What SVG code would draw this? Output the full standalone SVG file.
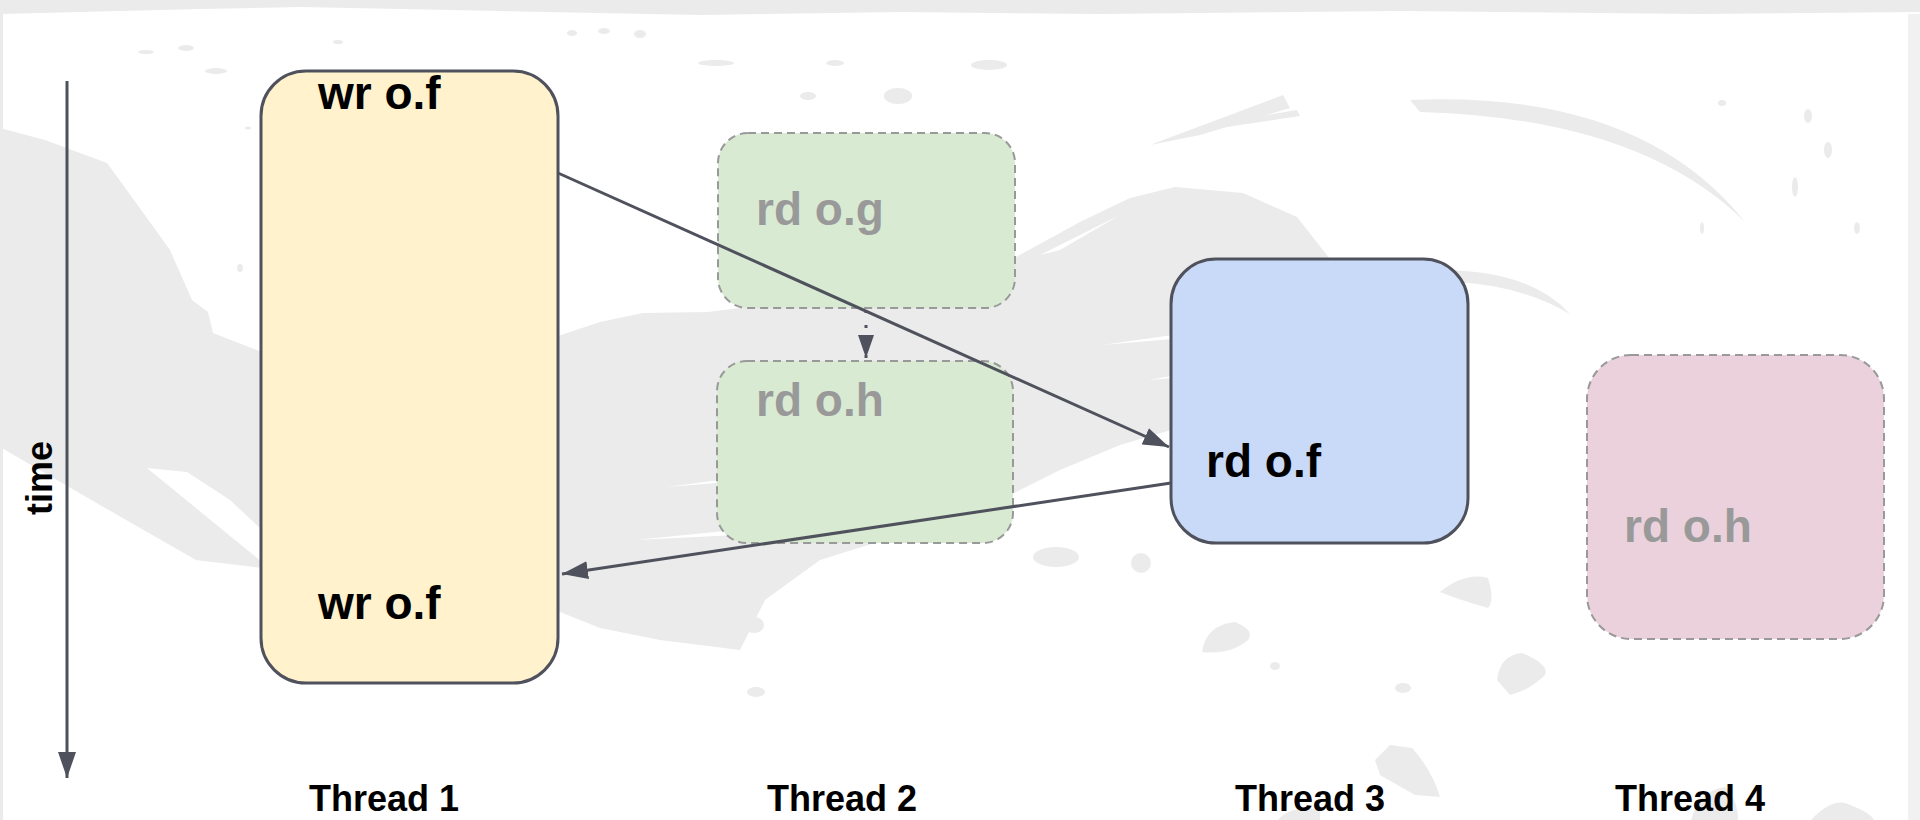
<svg xmlns="http://www.w3.org/2000/svg" width="1920" height="820" viewBox="0 0 1920 820">
  <style>
    .label { font-family: "Liberation Sans", Arial, sans-serif; font-weight: bold; }
    .op { font-size: 46px; }
    .op-main { fill: #000000; }
    .op-faded { fill: #999999; }
    .thread { font-size: 36px; fill: #000000; text-anchor: middle; }
    .box-solid { stroke: #4f525c; stroke-width: 3; }
    .box-dashed { stroke: #999999; stroke-width: 2; stroke-dasharray: 8 5; }
    .wire { stroke: #4f525c; stroke-width: 3; fill: none; }
    .grunge { fill: #ebebeb; }
  </style>
  <defs>
    <marker id="head" markerUnits="userSpaceOnUse" markerWidth="26" markerHeight="18" refX="26" refY="9" orient="auto">
      <path d="M0,0 L26,9 L0,18 Z" fill="#4f525c"/>
    </marker>
    <marker id="head-small" markerUnits="userSpaceOnUse" markerWidth="23" markerHeight="16" refX="23" refY="8" orient="auto">
      <path d="M0,0 L23,8 L0,16 Z" fill="#4f525c"/>
    </marker>
  </defs>

  <!-- paper background with brush texture -->
  <g id="background">
    <rect x="0" y="0" width="1920" height="820" fill="#ffffff"/>
    <path class="grunge" d="M0,0 H1920 V12 L1700,14 L1400,11 L1100,14 L900,12 L700,15 L500,11 L300,7 L200,9 L0,14 Z"/>
    <rect class="grunge" x="0" y="14" width="3" height="806"/>
    <rect x="1908" y="14" width="12" height="806" fill="#f1f1f1"/>
    <!-- main swath -->
    <path class="grunge" d="M0,128 L45,140 L107,163 L134,200 L170,250 L192,300 L208,312 L213,333 L262,352 L558,336 L600,322 L643,313 L708,312 L763,305 L850,290 L940,272 L1016,257 L1080,222 L1130,198 L1175,187 L1243,193 L1297,217 L1330,259 L1330,420 L1171,430 L1120,445 L1060,470 L1010,495 L960,515 L900,535 L820,560 L765,600 L740,650 L660,640 L600,628 L560,612 L520,600 L400,582 L262,568 L196,560 L100,505 L0,447 Z"/>
    <!-- light streaks cut through the swath -->
    <path d="M147,468 L187,472 L230,500 L262,530 L262,562 L235,540 Z" fill="#ffffff"/>
    <path d="M666,487 L765,474 L768,479 Z" fill="#ffffff"/>
    <path d="M635,540 L735,530 L737,535 Z" fill="#ffffff"/>
    <path d="M1102,345 L1194,332 L1196,337 Z" fill="#ffffff"/>
    <path d="M1148,380 L1200,371 L1200,376 Z" fill="#ffffff"/>
    <path d="M1040,255 L1120,215 L1060,250 Z" fill="#ffffff"/>
    <!-- upper right strokes -->
    <path class="grunge" d="M1150,145 L1283,95 L1290,108 L1200,135 Z"/>
    <path class="grunge" d="M1197,127 L1297,110 L1300,116 L1220,128 Z"/>
    <path class="grunge" d="M1410,100 Q1640,90 1745,222 Q1640,118 1420,112 Z"/>
    <path class="grunge" d="M1440,270 Q1530,270 1570,314 Q1520,285 1455,282 Z"/>
    <!-- scattered flecks -->
    <ellipse class="grunge" cx="146" cy="52" rx="8" ry="2"/>
    <ellipse class="grunge" cx="186" cy="48" rx="8" ry="3"/>
    <ellipse class="grunge" cx="216" cy="71" rx="11" ry="3"/>
    <ellipse class="grunge" cx="338" cy="42" rx="5" ry="2"/>
    <ellipse class="grunge" cx="572" cy="33" rx="5" ry="3"/>
    <ellipse class="grunge" cx="604" cy="31" rx="6" ry="3"/>
    <ellipse class="grunge" cx="640" cy="34" rx="6" ry="4"/>
    <ellipse class="grunge" cx="248" cy="128" rx="3" ry="1.5"/>
    <ellipse class="grunge" cx="240" cy="268" rx="3" ry="4"/>
    <ellipse class="grunge" cx="808" cy="96" rx="8" ry="4"/>
    <ellipse class="grunge" cx="898" cy="96" rx="14" ry="8"/>
    <ellipse class="grunge" cx="716" cy="63" rx="18" ry="3"/>
    <ellipse class="grunge" cx="835" cy="63" rx="9" ry="3"/>
    <ellipse class="grunge" cx="989" cy="65" rx="18" ry="5"/>
    <ellipse class="grunge" cx="1722" cy="103" rx="4" ry="3"/>
    <ellipse class="grunge" cx="1808" cy="116" rx="4" ry="7"/>
    <ellipse class="grunge" cx="1828" cy="150" rx="4" ry="8"/>
    <ellipse class="grunge" cx="1795" cy="187" rx="3" ry="10"/>
    <ellipse class="grunge" cx="1857" cy="228" rx="3" ry="6"/>
    <ellipse class="grunge" cx="1702" cy="228" rx="2" ry="6"/>
    <ellipse class="grunge" cx="1056" cy="557" rx="23" ry="10"/>
    <ellipse class="grunge" cx="1141" cy="563" rx="10" ry="10"/>
    <ellipse class="grunge" cx="754" cy="625" rx="10" ry="8"/>
    <ellipse class="grunge" cx="715" cy="597" rx="15" ry="7"/>
    <ellipse class="grunge" cx="756" cy="692" rx="9" ry="5"/>
    <path class="grunge" d="M1440,592 Q1465,572 1488,578 Q1495,600 1488,608 Q1460,600 1440,592 Z"/>
    <path class="grunge" d="M1202,652 Q1206,625 1235,622 Q1255,630 1248,640 Q1230,655 1202,652 Z"/>
    <path class="grunge" d="M1497,680 Q1500,655 1522,653 Q1550,665 1545,675 Q1530,690 1510,695 Z"/>
    <ellipse class="grunge" cx="1403" cy="688" rx="8" ry="5"/>
    <ellipse class="grunge" cx="1275" cy="666" rx="5" ry="4"/>
    <path class="grunge" d="M1375,760 L1390,745 L1412,748 Q1432,770 1440,797 L1415,795 L1380,775 Z"/>
    <path class="grunge" d="M1278,820 Q1290,805 1320,810 L1320,820 Z"/>
    <path class="grunge" d="M1691,820 Q1700,790 1725,787 Q1738,800 1738,820 Z"/>
    <path class="grunge" d="M1811,820 Q1830,800 1845,803 Q1870,812 1874,820 Z"/>
  </g>

  <!-- time axis -->
  <g id="time-axis">
    <line x1="67" y1="81" x2="67" y2="778" class="wire" marker-end="url(#head)"/>
    <text class="label" font-size="36" text-anchor="middle" transform="translate(52,478) rotate(-90)">time</text>
  </g>

  <!-- Thread 1 -->
  <g id="thread1-box">
    <rect x="261" y="71" width="297" height="612" rx="45" ry="45" fill="#fff2cc" class="box-solid"/>
    <text x="318" y="109" class="label op op-main">wr o.f</text>
    <text x="318" y="619" class="label op op-main">wr o.f</text>
  </g>

  <!-- Thread 2 -->
  <g id="thread2-read-g">
    <rect x="718" y="133" width="297" height="175" rx="30" ry="30" fill="#d9ead3" class="box-dashed"/>
    <text x="756" y="225" class="label op op-faded">rd o.g</text>
  </g>
  <g id="thread2-read-h">
    <rect x="717" y="361" width="296" height="182" rx="30" ry="30" fill="#d9ead3" class="box-dashed"/>
    <text x="756" y="416" class="label op op-faded">rd o.h</text>
  </g>

  <!-- Thread 3 -->
  <g id="thread3-box">
    <rect x="1171" y="259" width="297" height="284" rx="45" ry="45" fill="#c9daf8" class="box-solid"/>
    <text x="1206" y="477" class="label op op-main">rd o.f</text>
  </g>

  <!-- Thread 4 -->
  <g id="thread4-box">
    <rect x="1587" y="355" width="297" height="284" rx="44" ry="44" fill="#ead1dc" class="box-dashed"/>
    <text x="1624" y="542" class="label op op-faded">rd o.h</text>
  </g>

  <!-- connectors -->
  <g id="connectors">
    <line x1="558" y1="173" x2="1169" y2="447" class="wire" marker-end="url(#head)"/>
    <line x1="1171" y1="483" x2="562" y2="574" class="wire" marker-end="url(#head)"/>
    <line x1="866" y1="310" x2="866" y2="358" stroke="#4f525c" stroke-width="3" stroke-dasharray="3 12" marker-end="url(#head-small)"/>
  </g>

  <!-- thread captions -->
  <g id="captions">
    <text x="384" y="811" class="label thread">Thread 1</text>
    <text x="842" y="811" class="label thread">Thread 2</text>
    <text x="1310" y="811" class="label thread">Thread 3</text>
    <text x="1690" y="811" class="label thread">Thread 4</text>
  </g>
</svg>
